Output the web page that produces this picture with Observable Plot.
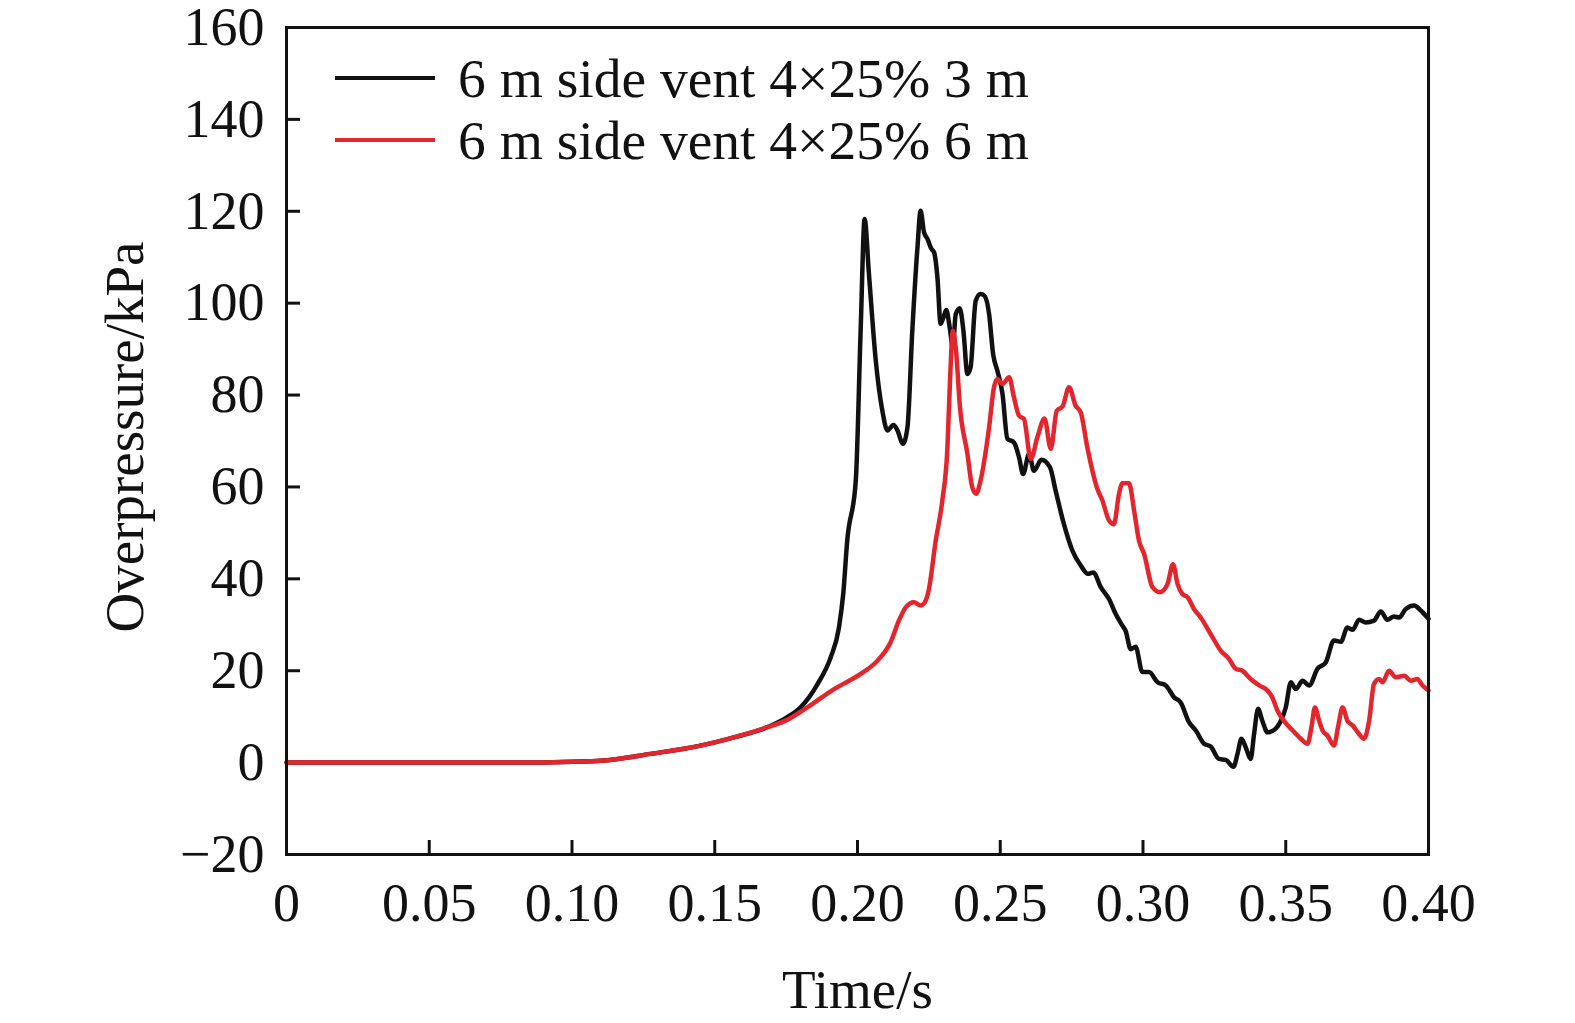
<!DOCTYPE html>
<html>
<head>
<meta charset="utf-8">
<script src="https://cdn.jsdelivr.net/npm/d3@7"></script>
<script src="https://cdn.jsdelivr.net/npm/@observablehq/plot@0.6"></script>
<style>
  html, body { margin: 0; padding: 0; background: #fff; }
  #wrap { position: relative; width: 1575px; height: 1023px; font-family: 'Liberation Serif', 'Times New Roman', serif; }
  .leg { position: absolute; left: 335px; display: flex; align-items: center; font-size: 55.5px; color: #111; white-space: nowrap; }
  .leg .sw { width: 100px; height: 4px; margin-right: 23px; }
</style>
</head>
<body>
<div id="wrap"></div>
<script>
const seriesNames = ["6 m side vent 4×25% 3 m", "6 m side vent 4×25% 6 m"];
const seriesColors = ["#111111", "#e3262d"];
const xTicks = [0, 0.05, 0.10, 0.15, 0.20, 0.25, 0.30, 0.35, 0.40];
const xTickLabels = ["0", "0.05", "0.10", "0.15", "0.20", "0.25", "0.30", "0.35", "0.40"];
const yTicks = [-20, 0, 20, 40, 60, 80, 100, 120, 140, 160];
const yTickLabels = ["\u221220", "0", "20", "40", "60", "80", "100", "120", "140", "160"];
const xTitle = "Time/s";
const yTitle = "Overpressure/kPa";

// [time (s), overpressure (kPa)]
const series3m = [
  [0,0],[0.02,0],[0.04,0],[0.06,0],[0.08,0],[0.09,0.05],[0.10,0.2],[0.11,0.4],[0.1275,1.9],[0.145,3.7],
  [0.1567,5.5],[0.1684,7.7],[0.1754,9.9],[0.1800,12.0],[0.1860,17.1],[0.1906,22.9],[0.1935,29.4],[0.1950,36.7],
  [0.1964,48.3],[0.1994,61.4],[0.2011,94.0],[0.2025,118.3],[0.2040,106.4],[0.2064,87.5],[0.2087,76.6],[0.2105,72.3],
  [0.2126,73.5],[0.2140,72.3],[0.2159,69.4],[0.2175,73.0],[0.2192,94.0],[0.2210,112.1],[0.2221,120.1],[0.2233,115.4],
  [0.2245,114.0],[0.2259,111.8],[0.2268,111.1],[0.2280,105.6],[0.2291,95.5],[0.2301,96.9],[0.2311,98.5],[0.2323,94.7],
  [0.2334,90.4],[0.2344,97.6],[0.2358,98.9],[0.2371,94.0],[0.2385,84.6],[0.2396,86.0],[0.2414,100.5],[0.2431,102.0],
  [0.2445,101.6],[0.2461,97.6],[0.2475,88.9],[0.2490,85.3],[0.2508,80.2],[0.2525,70.5],[0.2548,69.7],[0.2566,66.4],
  [0.2580,62.8],[0.2601,67.2],[0.2618,63.5],[0.2644,65.9],[0.2674,64.3],[0.2694,59.2],[0.2723,51.9],[0.2753,46.1],
  [0.2782,42.9],[0.2807,41.1],[0.2826,41.4],[0.2852,38.2],[0.2881,35.6],[0.2904,32.4],[0.2928,29.8],[0.2939,28.7],
  [0.2957,24.7],[0.2974,25.2],[0.2998,19.7],[0.3021,19.7],[0.3051,17.5],[0.3080,16.8],[0.3109,14.2],[0.3132,13.1],
  [0.3161,8.8],[0.3185,7.0],[0.3214,4.1],[0.3237,3.5],[0.3266,0.8],[0.3290,0.6],[0.3317,-0.9],[0.3331,1.9],
  [0.3345,5.2],[0.3360,3.3],[0.3377,0.8],[0.3389,6.2],[0.3403,11.7],[0.3418,9.1],[0.3436,6.6],[0.3459,7.1],
  [0.3483,9.1],[0.3500,12.0],[0.3518,17.5],[0.3535,16.0],[0.3559,17.8],[0.3582,16.8],[0.3611,20.4],[0.3640,21.8],
  [0.3669,26.6],[0.3693,26.3],[0.3716,29.4],[0.3734,28.9],[0.3757,31.1],[0.3780,30.5],[0.3809,30.9],[0.3833,32.9],
  [0.3856,31.1],[0.3879,31.8],[0.3897,31.6],[0.3920,33.4],[0.3950,34.2],[0.3973,33.1],[0.4000,31.3]
];
const series6m = [
  [0,0],[0.02,0],[0.04,0],[0.06,0],[0.08,0],[0.09,0.05],[0.10,0.2],[0.11,0.4],[0.1275,1.9],[0.145,3.7],
  [0.1567,5.5],[0.1684,7.7],[0.1754,9.3],[0.1824,12.0],[0.1918,16.0],[0.2011,19.3],[0.2070,22.2],[0.2116,26.2],
  [0.2145,30.9],[0.2169,33.8],[0.2198,34.9],[0.2221,34.2],[0.2235,34.8],[0.2249,37.4],[0.2274,48.3],[0.2297,57.0],
  [0.2315,68.6],[0.2324,83.1],[0.2334,94.0],[0.2344,90.4],[0.2359,77.3],[0.2385,67.2],[0.2402,59.9],[0.2416,58.5],
  [0.2431,61.4],[0.2461,73.0],[0.2478,81.7],[0.2490,83.5],[0.2508,82.4],[0.2531,83.9],[0.2548,79.5],[0.2566,75.5],
  [0.2583,74.8],[0.2607,66.1],[0.2630,70.8],[0.2655,74.9],[0.2677,68.3],[0.2698,76.6],[0.2718,77.5],[0.2741,81.7],
  [0.2764,77.7],[0.2782,76.2],[0.2805,68.6],[0.2840,59.6],[0.2858,57.0],[0.2881,52.7],[0.2898,51.9],[0.2916,58.5],
  [0.2928,60.8],[0.2951,60.8],[0.2969,54.8],[0.2986,48.3],[0.3004,45.4],[0.3033,38.2],[0.3060,37.1],[0.3086,38.9],
  [0.3105,43.2],[0.3121,38.9],[0.3138,36.7],[0.3156,36.0],[0.3179,33.4],[0.3202,31.6],[0.3237,28.0],[0.3272,24.4],
  [0.3301,22.6],[0.3325,20.4],[0.3348,20.0],[0.3377,18.2],[0.3407,16.8],[0.3436,15.7],[0.3453,14.2],[0.3471,11.3],
  [0.3494,9.1],[0.3524,7.0],[0.3553,5.2],[0.3576,4.1],[0.3590,7.7],[0.3602,12.0],[0.3617,9.1],[0.3629,7.0],
  [0.3646,5.9],[0.3669,3.7],[0.3683,7.7],[0.3699,12.0],[0.3716,9.1],[0.3734,8.1],[0.3757,6.2],[0.3774,5.2],
  [0.3792,9.1],[0.3809,17.1],[0.3827,18.2],[0.3839,17.5],[0.3862,20.0],[0.3885,18.6],[0.3915,18.9],[0.3938,17.8],
  [0.3961,18.2],[0.3979,16.8],[0.4000,15.7]
];

const W = 1575, H = 1023;
const mL = 286, mR = 147, mT = 27, mB = 169;
const plotW = W - mL - mR, plotH = H - mT - mB;
const tickLen = 14;
const ink = "#111111";

const chart = Plot.plot({
  width: W, height: H,
  marginLeft: mL, marginRight: mR, marginTop: mT, marginBottom: mB,
  style: { fontFamily: "'Liberation Serif', 'Times New Roman', serif", fontSize: "54px", color: ink, background: "#fff", overflow: "visible" },
  x: { domain: [0, 0.4] },
  y: { domain: [-20, 160] },
  marks: [
    Plot.axisX(xTicks, { tickSize: 0, tickPadding: 28, tickFormat: d => xTickLabels[xTicks.indexOf(d)], label: null }),
    Plot.axisY(yTicks, { tickSize: 0, tickPadding: 22, tickFormat: d => yTickLabels[yTicks.indexOf(d)], label: null }),
    Plot.ruleX(xTicks, { x: d => d, insetTop: plotH - tickLen, stroke: ink, strokeWidth: 3 }),
    Plot.ruleY(yTicks, { y: d => d, insetRight: plotW - tickLen, stroke: ink, strokeWidth: 3 }),
    Plot.line(series3m, { x: d => d[0], y: d => d[1], stroke: seriesColors[0], strokeWidth: 4.5, curve: "monotone-x" }),
    Plot.line(series6m, { x: d => d[0], y: d => d[1], stroke: seriesColors[1], strokeWidth: 4.5, curve: "monotone-x" }),
    Plot.frame({ stroke: ink, strokeWidth: 3 }),
    Plot.text([xTitle], { text: d => d, frameAnchor: "bottom", textAnchor: "middle", dy: 153, fontSize: 55, fill: ink }),
    Plot.text([yTitle], { text: d => d, frameAnchor: "left", textAnchor: "middle", rotate: -90, dx: -161, dy: -4, fontSize: 55, fill: ink })
  ]
});

const wrap = document.getElementById("wrap");
wrap.appendChild(chart);

const legendTops = [78, 140];
seriesNames.forEach((name, i) => {
  const row = document.createElement("div");
  row.className = "leg";
  row.style.top = (legendTops[i] - 34) + "px";
  row.style.height = "68px";
  const sw = document.createElement("span");
  sw.className = "sw";
  sw.style.background = seriesColors[i];
  const tx = document.createElement("span");
  tx.textContent = name;
  row.appendChild(sw);
  row.appendChild(tx);
  wrap.appendChild(row);
});
</script>
</body>
</html>
